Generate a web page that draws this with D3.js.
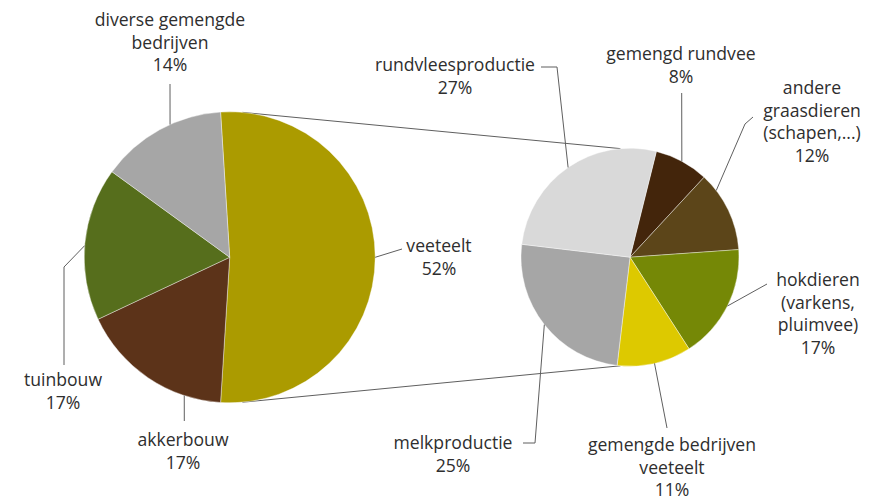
<!DOCTYPE html>
<html>
<head>
<meta charset="utf-8">
<script src="https://cdn.jsdelivr.net/npm/d3@7"></script>
<style>
  body { margin: 0; background: #fff; }
  text { font-family: "Open Sans", sans-serif; font-size: 17.6px; fill: #2e2e2e; }
</style>
</head>
<body>
<svg id="chart" width="878" height="502"></svg>
<script>
// main pie: share of farms per type (%)
const mainNames = [["veeteelt"], ["akkerbouw"], ["tuinbouw"], ["diverse gemengde", "bedrijven"]];
const mainValues = [52, 17, 17, 14];
const mainColors = ["#ab9b00", "#5c3319", "#566e1c", "#a6a6a6"];

// second pie: breakdown of veeteelt (%)
const subNames = [
  ["gemengd rundvee"],
  ["andere", "graasdieren", "(schapen,...)"],
  ["hokdieren", "(varkens,", "pluimvee)"],
  ["gemengde bedrijven", "veeteelt"],
  ["melkproductie"],
  ["rundvleesproductie"]
];
const subValues = [8, 12, 17, 11, 25, 27];
const subColors = ["#43250b", "#5c4519", "#758806", "#ddc900", "#a6a6a6", "#d9d9d9"];

const rad = Math.PI / 180;
const svg = d3.select("#chart");
const lineH = 22.5;

// layout of each pie
const mainPie = { cx: 229.7, cy: 257.3, r: 145.5 };
const subPie = { cx: 630, cy: 257.2, r: 109 };

// label placement: text centre, first line middle, leader elbow points, attach angle (deg)
const mainLabels = [
  { x: 439, y: 246, pts: [[402, 249]], att: 90 },
  { x: 183, y: 440, pts: [[184.3, 421]], att: 198.2 },
  { x: 63, y: 380, pts: [[64, 365], [64, 267]], att: 274.6 },
  { x: 170, y: 20, pts: [[170, 84]], att: 335.8 }
];
const subLabels = [
  { x: 681, y: 54, pts: [[681.7, 93]], att: null },
  { x: 812, y: 88, pts: [[753, 117], [745, 124]], att: 52.3 },
  { x: 818, y: 280, pts: [[767, 284]], att: null },
  { x: 672, y: 445, pts: [[667, 428]], att: null },
  { x: 453, y: 443, pts: [[523, 443], [535, 443]], att: null },
  { x: 455, y: 65, pts: [[541, 67], [557, 67]], att: null }
];

function onCircle(p, a, r) {
  return [p.cx + r * Math.sin(a * rad), p.cy - r * Math.cos(a * rad)];
}

function drawPie(p, values, colors, startDeg) {
  const pie = d3.pie().sort(null)
    .startAngle(startDeg * rad)
    .endAngle((startDeg + 360) * rad);
  const arcs = pie(values);
  const arc = d3.arc().innerRadius(0).outerRadius(p.r);
  svg.append("g")
    .attr("transform", "translate(" + p.cx + "," + p.cy + ")")
    .selectAll("path")
    .data(arcs)
    .enter()
    .append("path")
    .attr("d", arc)
    .attr("fill", (d, i) => colors[i])
    .attr("stroke", "#fff")
    .attr("stroke-width", 0.4);
  return arcs;
}

function drawLabels(p, arcs, names, values, labels) {
  const line = d3.line();
  labels.forEach(function(l, i) {
    let a = l.att;
    if (a === null) a = (arcs[i].startAngle + arcs[i].endAngle) / 2 / rad;
    const pts = l.pts.concat([onCircle(p, a, p.r)]);
    svg.append("path")
      .attr("d", line(pts))
      .attr("fill", "none")
      .attr("stroke", "#5f5f5f")
      .attr("stroke-width", 1);
    const t = svg.append("text")
      .attr("text-anchor", "middle");
    names[i].concat([values[i] + "%"]).forEach(function(s, k) {
      t.append("tspan")
        .attr("x", l.x)
        .attr("y", l.y + k * lineH)
        .attr("dy", "0.35em")
        .text(s);
    });
  });
}

// veeteelt wedge centred on the right side of the main pie
const mainStart = 90 - (mainValues[0] / d3.sum(mainValues)) * 180;

// connector lines between the pies
const conn = [[5, -5], [175, 185]];
conn.forEach(function(c) {
  const a = onCircle(mainPie, c[0], mainPie.r);
  const b = onCircle(subPie, c[1], subPie.r);
  svg.append("line")
    .attr("x1", a[0]).attr("y1", a[1])
    .attr("x2", b[0]).attr("y2", b[1])
    .attr("stroke", "#5f5f5f")
    .attr("stroke-width", 1);
});

const mainArcs = drawPie(mainPie, mainValues, mainColors, mainStart);
const subArcs = drawPie(subPie, subValues, subColors, 14);

drawLabels(mainPie, mainArcs, mainNames, mainValues, mainLabels);
drawLabels(subPie, subArcs, subNames, subValues, subLabels);
</script>
</body>
</html>
